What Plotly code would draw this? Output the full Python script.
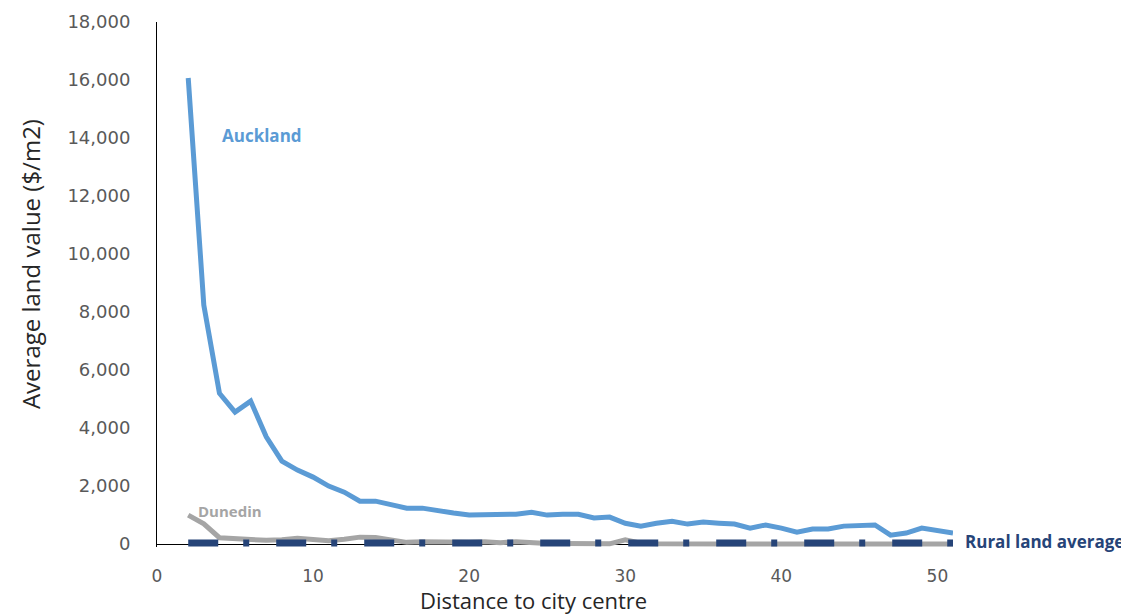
import plotly.graph_objects as go

distance = list(range(2, 52))
auckland = [16070, 8240, 5200, 4550, 4930, 3700, 2860, 2550, 2310, 2000,
            1790, 1480, 1480, 1340, 1240, 1240, 1140, 1070, 1000, 1000,
            1030, 1030, 1100, 1000, 1030, 1030, 900, 930, 720, 620,
            720, 790, 690, 760, 720, 690, 550, 660, 550, 410,
            520, 520, 620, 620, 660, 310, 380, 550, 480, 380]
dunedin = [1000, 700, 220, 180, 170, 130, 150, 200, 160, 120,
           170, 240, 230, 150, 60, 80, 60, 40, 60, 80,
           50, 80, 30, 20, 20, 10, 10, 10, 150, 30,
           10, 0, 0, 10, 0, 0, 0, 0, 0, 0,
           0, 0, 0, 0, 0, 0, 0, 0, 0, 0]
rural = [40] * len(distance)

BLUE = "#5B9BD5"
GREY = "#A5A5A5"
NAVY = "#264478"
FONT = "Open Sans"
TICKFONT = "DejaVu Sans"

fig = go.Figure()
fig.add_trace(go.Scatter(x=distance, y=dunedin, mode="lines", name="Dunedin",
                         line=dict(color=GREY, width=5)))
fig.add_trace(go.Scatter(x=distance, y=auckland, mode="lines", name="Auckland",
                         line=dict(color=BLUE, width=5)))
fig.add_trace(go.Scatter(x=distance, y=rural, mode="lines", name="Rural land average",
                         line=dict(color=NAVY, width=7, dash="30px,25px,6px,27px")))

fig.add_annotation(x=6.7, y=14100, xref="x", yref="y", text="<b>Auckland</b>",
                   showarrow=False, font=dict(family=FONT, size=17, color=BLUE))
fig.add_annotation(x=4.7, y=1150, xref="x", yref="y", text="<b>Dunedin</b>",
                   showarrow=False, font=dict(family=FONT, size=15, color=GREY))
fig.add_annotation(x=1.012, y=0.011, xref="paper", yref="paper", text="<b>Rural land average</b>",
                   showarrow=False, xanchor="left", yanchor="middle",
                   font=dict(family=FONT, size=17, color=NAVY))
# axis titles
fig.add_annotation(x=-0.1595, y=0.539, xref="paper", yref="paper", text="Average land value ($/m2)",
                   showarrow=False, textangle=-90, xanchor="center", yanchor="middle",
                   font=dict(family=FONT, size=24, color="#262626"))
fig.add_annotation(x=0.4736, y=-0.1019, xref="paper", yref="paper", text="Distance to city centre",
                   showarrow=False, xanchor="center", yanchor="middle",
                   font=dict(family=FONT, size=22, color="#262626"))

fig.update_layout(
    width=1121, height=608,
    margin=dict(l=149, r=176, t=14, b=69, autoexpand=False),
    paper_bgcolor="white", plot_bgcolor="white",
    showlegend=False,
    font=dict(family=FONT, color="#595959"),
)
fig.update_xaxes(range=[0, 51], tickvals=[0, 10, 20, 30, 40, 50], automargin=False,
                 showgrid=False, zeroline=False, showline=False,
                 ticks="", ticklabelstandoff=17, tickfont=dict(family=TICKFONT, size=17, color="#595959"))
fig.update_yaxes(range=[-100, 18000], tickvals=list(range(0, 18001, 2000)), tickformat=",d",
                 automargin=False,
                 showgrid=False, zeroline=True, zerolinecolor="black", zerolinewidth=1,
                 showline=True, linecolor="black", linewidth=1,
                 ticks="", ticklabelstandoff=22, tickfont=dict(family=TICKFONT, size=18, color="#595959"))

fig.write_html("out.html")
